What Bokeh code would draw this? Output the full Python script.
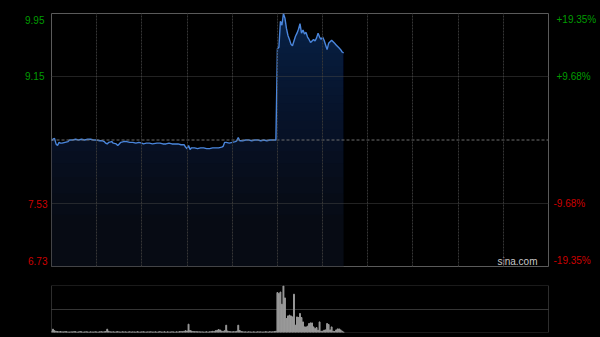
import numpy as np
from bokeh.plotting import figure
from bokeh.layouts import column
from bokeh.models import FixedTicker, Label, Span, Range1d, Grid, LinearAxis
from bokeh.embed import file_html
from bokeh.resources import INLINE

# ---------------- data (HK session, minutes from 09:30, 330 trading minutes) ----------------
am_minutes = [0, 1, 2, 3, 4, 5, 6, 7, 9, 11, 12, 14, 16, 18, 20, 22, 24, 26, 28, 30,
              32, 34, 35, 36, 37, 38, 40, 41, 43, 44, 45, 46, 48, 50, 52, 54, 56, 58, 60, 61,
              63, 65, 67, 70, 72, 74, 76, 78, 80, 82, 84, 86, 88, 89, 90, 91, 92, 93, 95, 97,
              99, 101, 103, 105, 107, 109, 111, 113, 114, 115, 116, 118, 120, 122, 123, 124, 125, 127, 129, 131,
              133, 135, 137, 139, 141, 143, 145, 147, 149]
am_prices = [8.33, 8.35, 8.36, 8.29, 8.27, 8.31, 8.30, 8.30, 8.31, 8.32, 8.34, 8.34, 8.35, 8.34, 8.35, 8.34, 8.35, 8.35, 8.34, 8.34,
             8.33, 8.33, 8.32, 8.30, 8.29, 8.31, 8.32, 8.30, 8.29, 8.27, 8.29, 8.31, 8.32, 8.32, 8.31, 8.31, 8.30, 8.31, 8.30, 8.29,
             8.30, 8.30, 8.29, 8.30, 8.30, 8.29, 8.29, 8.30, 8.29, 8.29, 8.29, 8.28, 8.28, 8.25, 8.23, 8.27, 8.22, 8.24, 8.24, 8.23,
             8.24, 8.24, 8.23, 8.23, 8.24, 8.24, 8.24, 8.25, 8.26, 8.31, 8.31, 8.30, 8.31, 8.32, 8.33, 8.37, 8.33, 8.33, 8.34, 8.34,
             8.33, 8.34, 8.34, 8.33, 8.34, 8.33, 8.34, 8.34, 8.34]
pm_minutes = list(range(150, 195))
pm_prices = [9.50, 9.52, 9.85, 9.80, 9.95, 9.89, 9.76, 9.67, 9.62, 9.56,
             9.54, 9.60, 9.66, 9.70, 9.75, 9.82, 9.70, 9.74, 9.69, 9.71,
             9.65, 9.62, 9.58, 9.60, 9.62, 9.60, 9.64, 9.70, 9.65, 9.62,
             9.65, 9.61, 9.55, 9.49, 9.57, 9.59, 9.61, 9.59, 9.57, 9.55,
             9.53, 9.51, 9.49, 9.46, 9.45]

vol_am = [15, 33, 18, 12, 9, 8, 10, 7, 6, 9,
          8, 6, 5, 7, 6, 9, 8, 5, 6, 10,
          7, 5, 6, 8, 6, 5, 7, 6, 5, 8,
          6, 5, 7, 9, 6, 8, 10, 33, 12, 7,
          6, 8, 5, 7, 9, 6, 5, 8, 6, 7,
          5, 6, 8, 5, 7, 6, 5, 9, 6, 5,
          7, 8, 6, 5, 7, 6, 8, 5, 6, 7,
          5, 6, 9, 5, 6, 8, 5, 7, 6, 5,
          8, 6, 5, 7, 6, 9, 10, 8, 12, 18,
          15, 83, 20, 14, 10, 8, 9, 7, 8, 6,
          7, 5, 6, 8, 5, 7, 9, 12, 10, 18,
          22, 30, 25, 14, 12, 18, 73, 15, 10, 8,
          7, 9, 8, 12, 73, 20, 10, 8, 6, 7,
          5, 8, 6, 5, 7, 6, 5, 8, 6, 7,
          5, 6, 8, 7, 5, 9, 6, 8, 10, 12]
vol_pm = [400, 390, 405, 283, 466, 346, 140, 166, 173, 166,
          156, 383, 73, 156, 150, 190, 150, 106, 56, 56,
          63, 90, 96, 96, 56, 40, 50, 23, 106, 13,
          13, 23, 26, 90, 80, 26, 56, 13, 10, 26,
          36, 36, 26, 13, 5]

prev_close = 8.34
price_ticks = [9.95, 9.15, 7.53, 6.73]
price_labels = ["9.95", "9.15", "7.53", "6.73"]
pct_labels = ["+19.35%", "+9.68%", "-9.68%", "-19.35%"]
time_grid = [30, 60, 90, 120, 150, 180, 210, 240, 270, 300]
session_len = 330
vol_max = 470

minutes = am_minutes + pm_minutes
prices = am_prices + pm_prices
vol_minutes = list(range(len(vol_am) + len(vol_pm)))
volumes = vol_am + vol_pm

# ---------------- styling ----------------
GREEN = "#009c00"
RED = "#cc0000"
FONT = "Liberation Sans"
BORDER = "#5a5a5a"
FRAME_H = 253

lo, hi = min(price_ticks), max(price_ticks)
x_range = Range1d(0, session_len)

p = figure(width=600, height=275, x_range=x_range, y_range=Range1d(lo, hi),
           x_axis_location=None, y_axis_location=None,
           output_backend="svg", toolbar_location=None,
           min_border_left=51, min_border_right=52, min_border_top=13, min_border_bottom=9,
           background_fill_color="black", border_fill_color="black")
p.outline_line_color = BORDER
p.outline_line_width = 1
for g in p.grid:
    g.visible = False

# gradient-like area fill (stacked translucent layers, denser towards the top)
pr = np.array(prices)
p.varea(x=minutes, y1=lo, y2=prices, fill_color="#070a11")
n_layers = 24
alpha = 1 - 0.5 ** (1 / n_layers)
for k in range(n_layers):
    level = lo + (hi - lo) * np.sqrt(k / n_layers)
    p.varea(x=minutes, y1=np.minimum(pr, level), y2=prices, fill_color="#2f55a0", fill_alpha=alpha)

xg = Grid(dimension=0, ticker=FixedTicker(ticks=time_grid), grid_line_color="#363636",
          grid_line_dash="2 1", level="overlay")
yg = Grid(dimension=1, ticker=FixedTicker(ticks=[t for t in price_ticks if lo < t < hi]),
          grid_line_color="#444444", grid_line_dash="1 1", level="overlay")
p.add_layout(xg, "center")
p.add_layout(yg, "center")
p.add_layout(Span(location=prev_close, dimension="width", line_color="#6e6e6e",
                  line_dash="3 2", line_width=1))

p.line(minutes, prices, line_color="#4a86dc", line_width=1.4)

# tick label positions: edge labels are nudged 6px inside the frame
nudge = 6 * (hi - lo) / FRAME_H
def label_pos(t):
    if t == hi:
        return t - nudge
    if t == lo:
        return t + nudge
    return t

up = [(label_pos(t), a, b) for t, a, b in zip(price_ticks, price_labels, pct_labels) if t > prev_close]
dn = [(label_pos(t), a, b) for t, a, b in zip(price_ticks, price_labels, pct_labels) if t < prev_close]

def mk_axis(items, which, color, standoff):
    ticks = [it[0] for it in items]
    over = {it[0]: it[which] for it in items}
    return LinearAxis(ticker=FixedTicker(ticks=ticks), major_label_overrides=over,
                      major_label_text_color=color, major_label_text_font=FONT,
                      major_label_text_font_size="10px", major_label_standoff=standoff,
                      axis_line_color=None, major_tick_line_color=None, minor_tick_line_color=None,
                      major_tick_in=0, major_tick_out=0, minor_tick_in=0, minor_tick_out=0)

# inner axes (red), outer axes (green) pulled back onto the same column
p.add_layout(mk_axis(dn, 1, RED, 4), "left")
p.add_layout(mk_axis(up, 1, GREEN, -19), "left")
p.add_layout(mk_axis(dn, 2, RED, 5), "right")
p.add_layout(mk_axis(up, 2, GREEN, -37), "right")

p.add_layout(Label(x=session_len, y=lo, x_offset=-11, text="sina.com",
                   text_align="right", text_baseline="bottom", text_color="#c8c8c8",
                   text_font=FONT, text_font_size="10px"))

# ---------------- volume pane ----------------
v = figure(width=600, height=62, x_range=x_range, y_range=Range1d(0, vol_max),
           x_axis_location=None, y_axis_location=None,
           output_backend="svg", toolbar_location=None,
           min_border_left=51, min_border_right=52, min_border_top=10, min_border_bottom=5,
           background_fill_color="black", border_fill_color="black")
v.outline_line_color = None
for g in v.grid:
    g.visible = False
v.add_layout(Grid(dimension=1, ticker=FixedTicker(ticks=[vol_max / 2]),
                  grid_line_color="#6a6a6a", grid_line_dash="1 1"), "center")
for loc in (0, vol_max):
    v.add_layout(Span(location=loc, dimension="width", line_color="#6a6a6a",
                      line_dash="1 1", line_width=1))
v.vbar(x=vol_minutes, top=volumes, width=0.6, color="#9a9a9a")
v.add_layout(Span(location=0, dimension="height", line_color=BORDER, line_width=1))
v.add_layout(Span(location=session_len, dimension="height", line_color=BORDER, line_width=1))

layout = column(p, v, spacing=0, styles={"background-color": "black"})
open("out.html", "w").write(file_html(layout, INLINE))
